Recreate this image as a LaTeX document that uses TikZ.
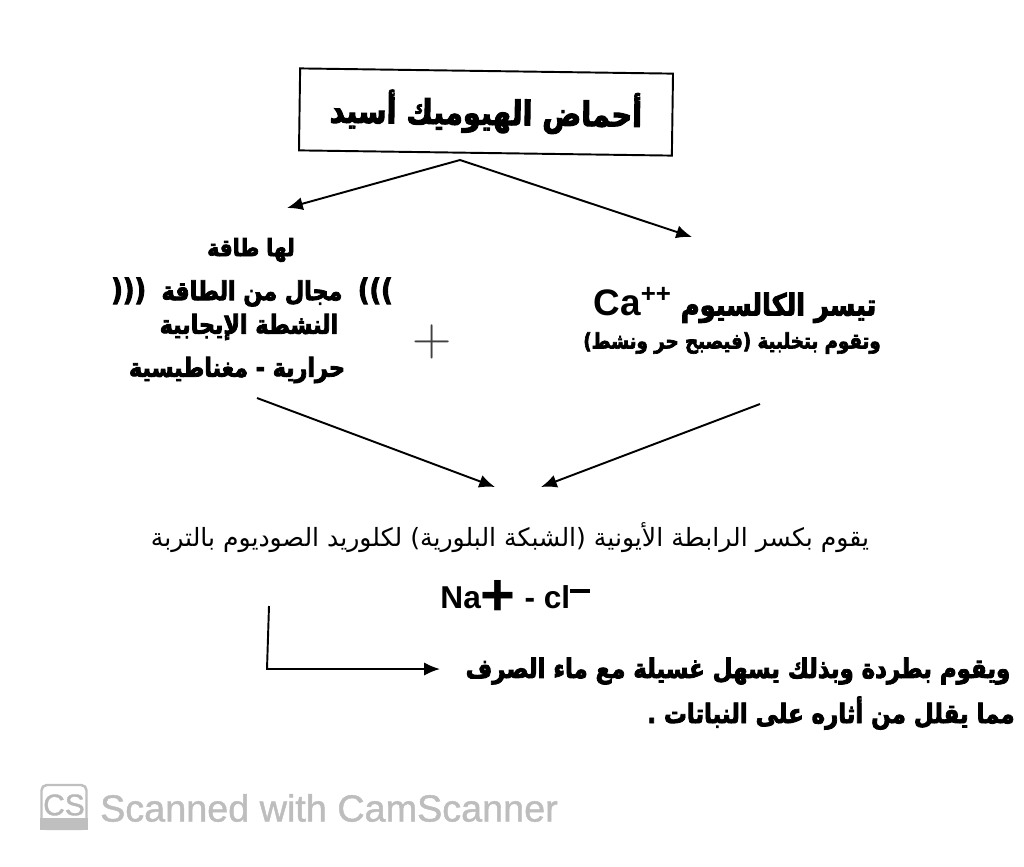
\documentclass[tikz,border=0pt]{standalone}
\usepackage{fontspec}
\usetikzlibrary{arrows.meta}
\setsansfont{Liberation Sans}
\newfontfamily\arabicfont[Script=Arabic,BoldFeatures={FakeBold=3,FakeStretch=0.85}]{DejaVu Sans}
\newfontfamily\scanfont[FakeBold=1.2]{Liberation Sans}
\TeXXeTstate=1
\newcommand{\artext}[1]{\arabicfont\bfseries\beginR #1\endR}
\newcommand{\arplain}[1]{\arabicfont\beginR #1\endR}
\begin{document}
\begin{tikzpicture}[x=0.02cm,y=0.02cm]
\tikzstyle{every node}+=[inner sep=0pt]
\tikzstyle{bigline}=[font=\fontsize{19.3}{21}\selectfont]
\tikzstyle{midline}=[font=\fontsize{14.9}{17}\selectfont]
\tikzstyle{lowline}=[font=\fontsize{15.3}{17}\selectfont]
\tikzstyle{thinline}=[font=\fontsize{14.3}{16}\selectfont]
\tikzstyle{smallline}=[font=\fontsize{12.2}{14}\selectfont]
\tikzstyle{arrowline}=[black, line width=1.1pt, -{Latex[length=9pt,width=7.5pt]}]
\useasboundingbox (0,0) rectangle (1024,-866);
\node [draw=black, line width=1.1pt, rotate=-0.8, minimum width=7.46cm, minimum height=1.64cm, bigline] (title) at (486,-112) {\raisebox{-3pt}{\artext{أحماض الهيوميك أسيد}}};
\coordinate (titlefoot) at (460,-160);
\coordinate (lefttip) at (287,-208);
\coordinate (righttip) at (692,-237);
\draw [arrowline] (titlefoot) -- (lefttip);
\draw [arrowline] (titlefoot) -- (righttip);
\node [font=\fontsize{13.5}{15}\selectfont] (energy) at (251,-250) {\artext{لها طاقة}};
\node [midline] (field) at (252,-292) {\artext{{\fontsize{17}{17}\selectfont )))}\ \ مجال من الطاقة\ \ {\fontsize{17}{17}\selectfont (((}}};
\node [midline] (active) at (249,-327) {\artext{النشطة الإيجابية}};
\node [midline] (thermal) at (237,-370) {\artext{حرارية - مغناطيسية}};
\node [font=\fontsize{31}{31}\selectfont, text=black!75] (plus) at (432,-342) {+};
\node [font=\fontsize{17.2}{19}\selectfont] (calcium) at (735,-305) {\artext{تيسر الكالسيوم \beginL{\sffamily\bfseries\fontsize{21}{21}\selectfont Ca\textsuperscript{++}}\endL}};
\node [smallline] (chelate) at (732,-343) {\artext{وتقوم بتخلبية (فيصبح حر ونشط)}};
\coordinate (leftstart) at (257,-398);
\coordinate (leftend) at (495,-487);
\coordinate (rightstart) at (760,-404);
\coordinate (rightend) at (541,-487);
\draw [arrowline] (leftstart) -- (leftend);
\draw [arrowline] (rightstart) -- (rightend);
\node [thinline] (breaks) at (510,-538) {\arplain{يقوم بكسر الرابطة الأيونية (الشبكة البلورية) لكلوريد الصوديوم بالتربة}};
\node [font=\sffamily\bfseries\fontsize{18}{20}\selectfont] (salt) at (515,-598) {Na\raisebox{-4pt}{\fontsize{34}{34}\selectfont +} - cl\rule[9pt]{11pt}{2.2pt}};
\coordinate (elbowstart) at (269,-606);
\coordinate (elbowcorner) at (267,-669);
\coordinate (elbowend) at (440,-669);
\draw [arrowline] (elbowstart) -- (elbowcorner) -- (elbowend);
\node [lowline] (washing) at (738,-671) {\artext{ويقوم بطردة وبذلك يسهل غسيلة مع ماء الصرف}};
\node [lowline] (effect) at (831,-713) {\artext{مما يقلل من أثاره على النباتات .}};
\node [draw=black!25, line width=1.4pt, rounded corners=3pt, text=black!28, minimum width=0.9cm, minimum height=0.88cm, font=\scanfont\fontsize{17}{17}\selectfont] (logo) at (64,-807) {\raisebox{2.5pt}{CS}};
\fill [black!25] (logo.south west) rectangle ([yshift=7pt]logo.south east);
\node [text=black!26, font=\scanfont\fontsize{21.5}{22}\selectfont] (scanned) at (329,-808) {Scanned with CamScanner};
\end{tikzpicture}
\end{document}
